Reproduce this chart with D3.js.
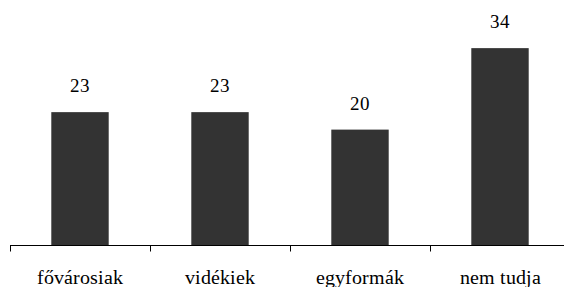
<!DOCTYPE html>
<html>
<head>
<meta charset="utf-8">
<script src="https://cdn.jsdelivr.net/npm/d3@7"></script>
<style>
  @font-face {
    font-family: "ChartSerif";
    src: local("Liberation Serif"), local("LiberationSerif"), local("LiberationSerif-Regular"), local("Times New Roman");
  }
  body { margin: 0; background: #fff; }
  svg text { font-family: "ChartSerif", "Liberation Serif", "Times New Roman", serif; }
</style>
</head>
<body>
<script>
// data
var categories = ["fővárosiak", "vidékiek", "egyformák", "nem tudja"];
var values = [23, 23, 20, 34];

var svgWidth = 564;
var svgHeight = 287;

var margin = { top: 0, left: 10, bottom: 41, right: -6 };
var width = svgWidth - margin.left - margin.right;
var height = svgHeight - margin.top - margin.bottom;

var svg = d3.select("body")
    .append("svg")
    .attr("width", svgWidth)
    .attr("height", svgHeight);

var chartGroup = svg.append("g")
    .attr("transform", `translate(${margin.left}, ${margin.top})`);

var xScale = d3.scaleBand()
    .domain(categories)
    .range([0, width])
    .paddingInner(0.59)
    .paddingOuter(0.295);

var xTicks = d3.scaleBand()
    .domain(categories)
    .range([0, width]);

var yScale = d3.scaleLinear()
    .domain([0, 42.27])
    .range([height, 0]);

// axis line and ticks between categories
var axis = chartGroup.append("g")
    .attr("transform", `translate(0, ${height - 0.5})`);

axis.append("line")
    .attr("x1", 0)
    .attr("x2", width)
    .attr("stroke", "#000")
    .attr("stroke-width", 1);

axis.selectAll(".tick")
    .data(categories)
    .enter()
    .append("line")
    .attr("x1", d => Math.round(xTicks(d)) + 0.5)
    .attr("x2", d => Math.round(xTicks(d)) + 0.5)
    .attr("y1", 0)
    .attr("y2", 6)
    .attr("stroke", "#000");

// bars
chartGroup.selectAll("rect")
    .data(values)
    .enter()
    .append("rect")
    .attr("x", (d, i) => xScale(categories[i]))
    .attr("y", d => yScale(d))
    .attr("width", xScale.bandwidth())
    .attr("height", d => height - 1 - yScale(d))
    .attr("fill", "#333333");

// value labels
chartGroup.selectAll(".val")
    .data(values)
    .enter()
    .append("text")
    .attr("class", "val")
    .attr("x", (d, i) => xScale(categories[i]) + xScale.bandwidth() / 2)
    .attr("y", d => yScale(d) - 20)
    .attr("text-anchor", "middle")
    .attr("font-size", "19px")
    .attr("fill", "#000")
    .text(d => d);

// category labels
chartGroup.selectAll(".cat")
    .data(categories)
    .enter()
    .append("text")
    .attr("class", "cat")
    .attr("x", d => xTicks(d) + xTicks.bandwidth() / 2)
    .attr("y", height + 38)
    .attr("text-anchor", "middle")
    .attr("font-size", "20px")
    .attr("fill", "#000")
    .text(d => d);
</script>
</body>
</html>
